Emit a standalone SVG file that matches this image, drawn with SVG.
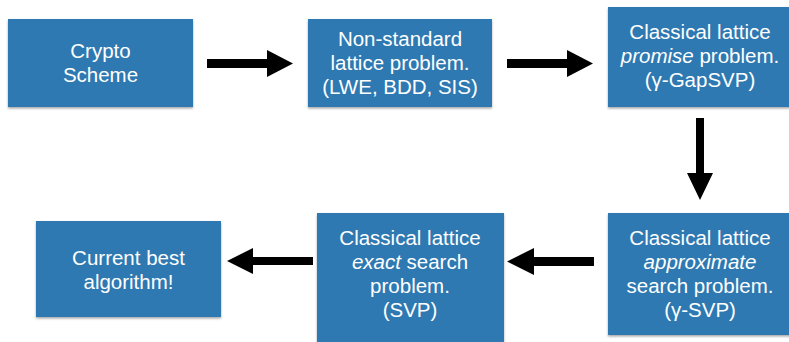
<svg xmlns="http://www.w3.org/2000/svg" width="789" height="342" viewBox="0 0 789 342">
<defs>
<filter id="sh" x="-10%" y="-10%" width="120%" height="130%">
<feDropShadow dx="0" dy="1.5" stdDeviation="1.2" flood-color="#000" flood-opacity="0.35"/>
</filter>
</defs>
<style>
.box{fill:#2f79b1;filter:url(#sh)}
.t{font-family:"Liberation Sans",Arial,sans-serif;font-size:20.5px;fill:#fff;text-anchor:middle}
.i{font-style:italic}
.ar{fill:#000}
</style>
<rect width="789" height="342" fill="#fff"/>
<g id="crypto">
<rect class="box" x="8" y="19" width="185" height="88"/>
<text class="t" x="100.5" y="58">Crypto</text>
<text class="t" x="100.5" y="82">Scheme</text>
</g>
<g id="nonstandard">
<rect class="box" x="308" y="19" width="184" height="88"/>
<text class="t" x="400" y="46">Non-standard</text>
<text class="t" x="400" y="70">lattice problem.</text>
<text class="t" x="400" y="94">(LWE, BDD, SIS)</text>
</g>
<g id="promise">
<rect class="box" x="608" y="7" width="184" height="100"/>
<text class="t" x="700" y="39">Classical lattice</text>
<text class="t" x="700" y="63"><tspan class="i">promise</tspan> problem.</text>
<text class="t" x="700" y="87">(γ-GapSVP)</text>
</g>
<g id="approx">
<rect class="box" x="608" y="213" width="184" height="122"/>
<text class="t" x="700" y="245">Classical lattice</text>
<text class="t" x="700" y="269"><tspan class="i">approximate</tspan></text>
<text class="t" x="700" y="293">search problem.</text>
<text class="t" x="700" y="317">(γ-SVP)</text>
</g>
<g id="exact">
<rect class="box" x="317" y="213" width="187" height="135"/>
<text class="t" x="410" y="245">Classical lattice</text>
<text class="t" x="410" y="269"><tspan class="i">exact</tspan> search</text>
<text class="t" x="410" y="293">problem.</text>
<text class="t" x="410" y="317">(SVP)</text>
</g>
<g id="best">
<rect class="box" x="36" y="221" width="185" height="96"/>
<text class="t" x="128.5" y="265">Current best</text>
<text class="t" x="128.5" y="289">algorithm!</text>
</g>
<g id="connectors">
<polygon class="ar" points="207,59 267,59 267,50 293,63.5 267,77 267,68 207,68"/>
<polygon class="ar" points="507,59 567,59 567,50 593,63.5 567,77 567,68 507,68"/>
<polygon class="ar" points="696,118 704,118 704,173 713,173 700,200 687,173 696,173"/>
<polygon class="ar" points="594,257 534,257 534,248 507,261.5 534,275 534,266 594,266"/>
<polygon class="ar" points="313,257 253,257 253,248 227,261 253,274 253,265 313,265"/>
</g>
</svg>
